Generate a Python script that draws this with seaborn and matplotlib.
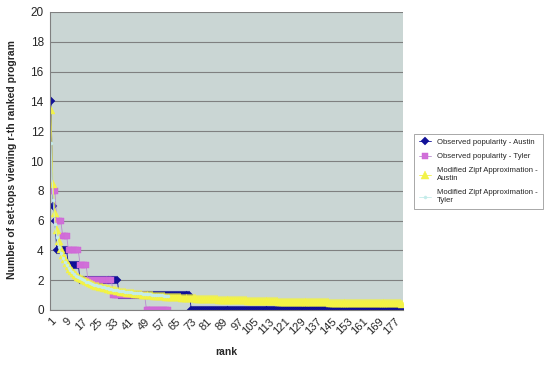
import matplotlib
matplotlib.use("Agg")
import matplotlib.pyplot as plt
import seaborn as sns
import pandas as pd
import numpy as np

# ---- data ----
austin_obs = ([14, 7, 6] + [4] * 6 + [3] * 6 + [2] * 20 + [1] * 37 + [0] * 109)
tyler_obs = ([8] * 3 + [6] * 3 + [5] * 3 + [4] * 6 + [3] * 4 + [2] * 13 + [1] * 17 + [0] * 12)
zipf_austin = [
    13.40, 8.48, 6.49, 5.37, 4.63, 4.11, 3.71, 3.40, 3.14, 2.93,
    2.75, 2.60, 2.47, 2.35, 2.24, 2.15, 2.07, 1.99, 1.92, 1.86,
    1.80, 1.74, 1.69, 1.64, 1.60, 1.56, 1.52, 1.49, 1.45, 1.42,
    1.39, 1.36, 1.33, 1.31, 1.28, 1.26, 1.24, 1.21, 1.19, 1.17,
    1.16, 1.14, 1.12, 1.10, 1.09, 1.07, 1.06, 1.04, 1.03, 1.01,
    1.00, 0.99, 0.98, 0.96, 0.95, 0.94, 0.93, 0.92, 0.91, 0.90,
    0.89, 0.88, 0.87, 0.86, 0.85, 0.84, 0.84, 0.83, 0.82, 0.81,
    0.80, 0.80, 0.79, 0.78, 0.78, 0.77, 0.76, 0.76, 0.75, 0.74,
    0.74, 0.73, 0.73, 0.72, 0.71, 0.71, 0.70, 0.70, 0.69, 0.69,
    0.68, 0.68, 0.67, 0.67, 0.66, 0.66, 0.65, 0.65, 0.65, 0.64,
    0.64, 0.63, 0.63, 0.62, 0.62, 0.62, 0.61, 0.61, 0.61, 0.60,
    0.60, 0.60, 0.59, 0.59, 0.58, 0.58, 0.58, 0.57, 0.57, 0.57,
    0.57, 0.56, 0.56, 0.56, 0.55, 0.55, 0.55, 0.55, 0.54, 0.54,
    0.54, 0.53, 0.53, 0.53, 0.53, 0.52, 0.52, 0.52, 0.52, 0.51,
    0.51, 0.51, 0.51, 0.50, 0.50, 0.50, 0.50, 0.50, 0.49, 0.49,
    0.49, 0.49, 0.48, 0.48, 0.48, 0.48, 0.48, 0.47, 0.47, 0.47,
    0.47, 0.47, 0.46, 0.46, 0.46, 0.46, 0.46, 0.46, 0.45, 0.45,
    0.45, 0.45, 0.45, 0.45, 0.44, 0.44, 0.44, 0.44, 0.44, 0.44,
    0.43,
]
zipf_tyler = [
    11.20, 7.39, 5.79, 4.88, 4.26, 3.82, 3.48, 3.22, 3.00, 2.81,
    2.66, 2.52, 2.40, 2.30, 2.21, 2.12, 2.05, 1.98, 1.91, 1.86,
    1.80, 1.75, 1.71, 1.66, 1.62, 1.59, 1.55, 1.52, 1.49, 1.45,
    1.43, 1.40, 1.37, 1.35, 1.33, 1.30, 1.28, 1.26, 1.24, 1.22,
    1.21, 1.19, 1.17, 1.16, 1.14, 1.13, 1.11, 1.10, 1.08, 1.07,
    1.06, 1.05, 1.03, 1.02, 1.01, 1.00, 0.99, 0.98, 0.97, 0.96,
    0.95,
]
series_names = [
    "Observed popularity - Austin",
    "Observed popularity - Tyler",
    "Modified Zipf Approximation -\nAustin",
    "Modified Zipf Approximation -\nTyler",
]
y_ticks = [0, 2, 4, 6, 8, 10, 12, 14, 16, 18, 20]
x_tick_labels = list(range(1, 178, 8))

# ---- styling ----
sns.set_style("white")
plt.rcParams["font.family"] = ["Liberation Sans", "DejaVu Sans"]

fig = plt.figure(figsize=(5.5, 3.66), dpi=100)
ax = fig.add_axes([50 / 550, 1 - 310 / 366, 353 / 550, 298 / 366])
ax.set_facecolor("#CAD6D4")

def frame(vals):
    return pd.DataFrame({"rank": np.arange(1, len(vals) + 1), "value": vals})

styles = [
    dict(color="#12129A", marker="D", markersize=4.0, linewidth=0.6, mec="#0A0A90"),
    dict(color="#B98CD0", marker="s", markersize=4.6, linewidth=0.6, mec="#D060D8"),
    dict(color="#F2F24A", marker="^", markersize=5.4, linewidth=0.6, mec="#F5F53A"),
    dict(color="#C4ECEA", marker="o", markersize=2.2, linewidth=0.6, mec="#C4ECEA"),
]
data_list = [austin_obs, tyler_obs, zipf_austin, zipf_tyler]
for vals, name, st in zip(data_list, series_names, styles):
    sns.lineplot(data=frame(vals), x="rank", y="value", ax=ax, label=name,
                 color=st["color"], marker=st["marker"], markersize=st["markersize"],
                 linewidth=st["linewidth"], markeredgecolor=st["mec"],
                 markeredgewidth=0.3, legend=False)
ax.lines[1].set_markerfacecolor("#D070D8")

ax.set_xlim(0.5, 181.5)
ax.set_ylim(0, 20)
ax.set_yticks(y_ticks)
ax.set_yticklabels([str(v) for v in y_ticks], fontsize=8.5)
ax.set_xticks(x_tick_labels)
ax.set_xticklabels([str(v) for v in x_tick_labels], fontsize=8, rotation=45,
                   ha="right", rotation_mode="anchor")
ax.set_xticks(np.arange(1, 182), minor=True)
ax.tick_params(axis="x", which="both", length=2.5, width=0.5, color="#808080", pad=2)
ax.tick_params(axis="y", length=3, width=0.6, color="#808080", pad=1.5)
ax.grid(axis="y", color="#7F8080", linewidth=0.8)
ax.set_axisbelow(True)
for s in ["top", "right"]:
    ax.spines[s].set_visible(False)
for s in ["left", "bottom"]:
    ax.spines[s].set_color("#808080")
    ax.spines[s].set_linewidth(0.8)

ax.set_xlabel("rank", fontsize=7.5, fontweight="bold")
ax.xaxis.set_label_coords((226 - 50) / 353, (310 - 352) / 298)
ax.xaxis.label.set_verticalalignment("center")
ax.set_ylabel("Number of set-tops viewing r-th ranked program", fontsize=7.5,
              fontweight="bold")
ax.yaxis.set_label_coords(-(50 - 12) / 353, (310 - 160) / 298)
ax.yaxis.label.set_verticalalignment("center")

handles = ax.lines[:4]
leg = fig.legend(handles, series_names, loc="upper left",
                 bbox_to_anchor=(410 / 550, 1 - 130 / 366), fontsize=5.6,
                 frameon=True, fancybox=False, edgecolor="#808080",
                 handlelength=1.6, labelspacing=0.9, borderpad=0.6)
leg.get_frame().set_linewidth(0.6)

fig.savefig("out.png", dpi=100)
